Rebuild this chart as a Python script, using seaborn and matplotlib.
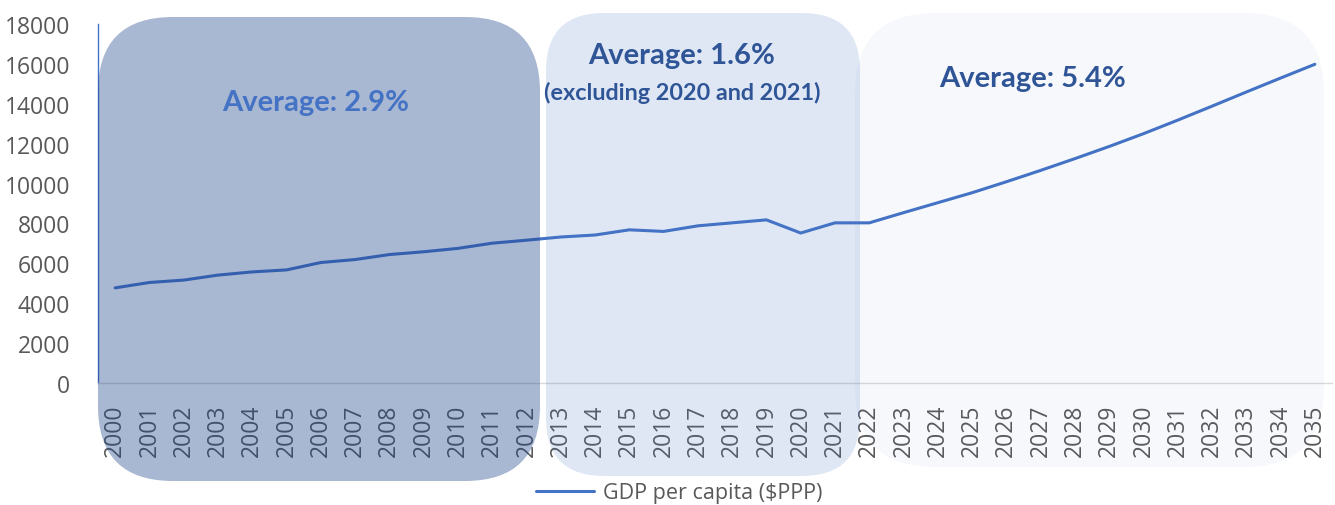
import matplotlib
matplotlib.use("Agg")
import matplotlib.pyplot as plt
from matplotlib.patches import FancyBboxPatch
from matplotlib.transforms import IdentityTransform
import seaborn as sns
import pandas as pd

years = list(range(2000, 2036))
gdp_per_capita = [4770, 5040, 5160, 5410, 5570, 5670, 6040, 6190, 6440, 6580,
                  6750, 7010, 7160, 7320, 7420, 7680, 7600, 7880, 8030, 8180,
                  7520, 8030, 8030, 8540, 9040, 9540, 10090, 10660, 11250, 11860,
                  12500, 13180, 13880, 14590, 15290, 15980]
y_ticks = [0, 2000, 4000, 6000, 8000, 10000, 12000, 14000, 16000, 18000]
series_label = "GDP per capita ($PPP)"
period_labels = ["Average: 2.9%", "Average: 1.6%", "(excluding 2020 and 2021)", "Average: 5.4%"]

df = pd.DataFrame({"year": years, "gdp": gdp_per_capita})

sns.set_theme(style="white")
plt.rcParams["font.family"] = ["Open Sans", "DejaVu Sans"]

W, H = 1335, 506
fig = plt.figure(figsize=(W / 100, H / 100), dpi=100)
ax = fig.add_axes([98 / W, 1 - 384 / H, (1332 - 98) / W, (384 - 25) / H])

sns.lineplot(data=df, x="year", y="gdp", ax=ax, color="#4472C4", linewidth=2.2,
             label=series_label, zorder=3)

ax.set_xlim(1999.5, 2035.5)
ax.set_ylim(0, 18000)
ax.set_xticks(years)
ax.set_xticklabels([str(y) for y in years], rotation=90, fontsize=16.5, color="#595959")
ax.set_yticks(y_ticks)
ax.set_yticklabels([str(v) for v in y_ticks], fontsize=16.5, color="#595959")
ax.tick_params(axis="both", length=0)
ax.tick_params(axis="y", pad=20)
ax.tick_params(axis="x", pad=15)
ax.set_xlabel("")
ax.set_ylabel("")
for s in ["top", "right"]:
    ax.spines[s].set_visible(False)
ax.spines["left"].set_color("#4472C4")
ax.spines["left"].set_linewidth(1.0)
ax.spines["bottom"].set_color("#d9d9d9")
ax.spines["bottom"].set_linewidth(1.0)
ax.grid(False)

leg = ax.legend(loc="center", bbox_to_anchor=((679 - 98) / 1234, (384 - 494) / 359),
                frameon=False, fontsize=15.5, handlelength=2.7, handletextpad=0.4,
                borderpad=0, borderaxespad=0)
for t in leg.get_texts():
    t.set_color("#595959")

# rounded background panels (display pixel coords, origin bottom-left)
def panel(x0, y0_top, x1, y1_bot, r, color, alpha):
    p = FancyBboxPatch((x0, H - y1_bot), x1 - x0, y1_bot - y0_top,
                       boxstyle=f"round,pad=0,rounding_size={r}",
                       transform=IdentityTransform(), facecolor=color, alpha=alpha,
                       edgecolor="none", zorder=1)
    fig.patches.append(p)

panel(98, 18, 540, 482, 75, "#1c428b", 0.38)
panel(546, 14, 860, 477, 58, "#4472C4", 0.17)
panel(855, 14, 1324, 468, 80, "#4472C4", 0.045)

tkw = dict(ha="center", va="center", fontweight="bold", family=["Lato", "DejaVu Sans"],
           transform=IdentityTransform(), zorder=5)
fig.text(316, H - 103, period_labels[0], fontsize=21, color="#4472C4", **tkw)
fig.text(682, H - 56, period_labels[1], fontsize=21, color="#2F5597", **tkw)
fig.text(682, H - 93, period_labels[2], fontsize=16.8, color="#2F5597", **tkw)
fig.text(1033, H - 79, period_labels[3], fontsize=21, color="#2F5597", **tkw)

fig.savefig("out.png", dpi=100)
